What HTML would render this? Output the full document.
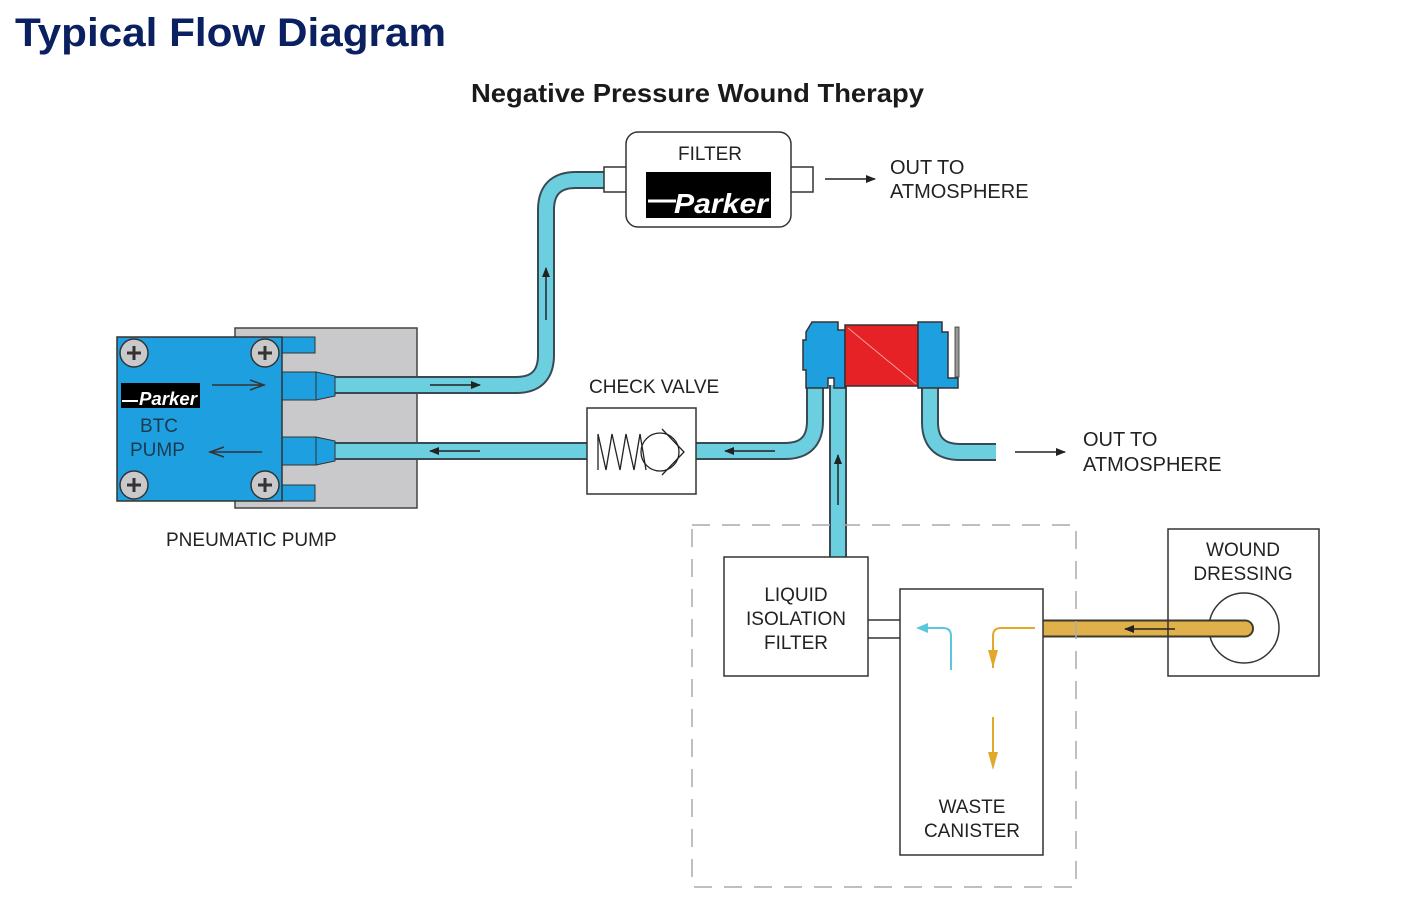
<!DOCTYPE html>
<html><head><meta charset="utf-8"><style>
html,body{margin:0;padding:0;background:#fff;}
svg{display:block;font-family:"Liberation Sans",sans-serif;}
</style></head><body>
<svg width="1403" height="904" viewBox="0 0 1403 904" xmlns="http://www.w3.org/2000/svg">
<defs>
<marker id="ah" markerWidth="10" markerHeight="8" refX="9" refY="4" orient="auto" markerUnits="userSpaceOnUse"><path d="M0,0 L10,4 L0,8 Z" fill="#222"/></marker>
<marker id="ahc" markerWidth="12" markerHeight="10" refX="10" refY="5" orient="auto" markerUnits="userSpaceOnUse"><path d="M0,0 L12,5 L0,10 Z" fill="#5cc6dc"/></marker>
</defs>
<text x="15" y="46" font-size="40" font-weight="bold" fill="#0a2060" textLength="431" lengthAdjust="spacingAndGlyphs">Typical Flow Diagram</text>
<text x="471" y="102" font-size="26" font-weight="bold" fill="#1a1a1a" textLength="453" lengthAdjust="spacingAndGlyphs">Negative Pressure Wound Therapy</text>

<!-- pump gray block first -->
<rect x="235" y="328" width="182" height="180" fill="#c9c9cb" stroke="#444" stroke-width="1.5"/>

<!-- tubes -->
<g fill="none" stroke-linejoin="round">
<path d="M320,385 H516 Q546,385 546,355 V210 Q546,180 576,180 H606" stroke="#3a4a55" stroke-width="18"/>
<path d="M320,385 H516 Q546,385 546,355 V210 Q546,180 576,180 H606" stroke="#6ccfe0" stroke-width="14"/>
<path d="M320,451 H588 M696,451 H785 Q815,451 815,421 V385" stroke="#3a4a55" stroke-width="18"/>
<path d="M320,451 H588 M696,451 H785 Q815,451 815,421 V385" stroke="#6ccfe0" stroke-width="14"/>
<path d="M838,385 V558" stroke="#3a4a55" stroke-width="18"/>
<path d="M838,385 V558" stroke="#6ccfe0" stroke-width="14"/>
<path d="M930,385 V422 Q930,452 960,452 H996" stroke="#3a4a55" stroke-width="18"/>
<path d="M930,385 V422 Q930,452 960,452 H996" stroke="#6ccfe0" stroke-width="14"/>
<path d="M1043,628.5 H1245" stroke="#3a3a2a" stroke-width="18" stroke-linecap="round"/>
<path d="M1043,628.5 H1245" stroke="#e0b04a" stroke-width="14" stroke-linecap="round"/>
</g>
<g stroke="#222" stroke-width="1.5" fill="none">
<line x1="430" y1="385" x2="480" y2="385" marker-end="url(#ah)"/>
<line x1="546" y1="320" x2="546" y2="268" marker-end="url(#ah)"/>
<line x1="480" y1="451" x2="430" y2="451" marker-end="url(#ah)"/>
<line x1="775" y1="451" x2="725" y2="451" marker-end="url(#ah)"/>
<line x1="838" y1="505" x2="838" y2="455" marker-end="url(#ah)"/>
<line x1="825" y1="179" x2="875" y2="179" marker-end="url(#ah)"/>
<line x1="1015" y1="452" x2="1065" y2="452" marker-end="url(#ah)"/>
</g>

<!-- filter -->
<rect x="604" y="167" width="24" height="25" fill="#fff" stroke="#333" stroke-width="1.5"/>
<rect x="789" y="167" width="24" height="25" fill="#fff" stroke="#333" stroke-width="1.5"/>
<rect x="626" y="132" width="165" height="95" rx="12" fill="#fff" stroke="#333" stroke-width="1.5"/>
<text x="710" y="160" font-size="19" text-anchor="middle" fill="#222">FILTER</text>
<rect x="646" y="172" width="125" height="46" fill="#000"/>
<line x1="648" y1="201" x2="676" y2="201" stroke="#fff" stroke-width="3"/>
<text x="721" y="213" font-size="28" font-weight="bold" font-style="italic" text-anchor="middle" fill="#fff" textLength="94" lengthAdjust="spacingAndGlyphs">Parker</text>
<text x="890" y="174" font-size="20" fill="#222">OUT TO</text>
<text x="890" y="198" font-size="20" fill="#222">ATMOSPHERE</text>

<!-- pump -->
<rect x="280" y="337" width="35" height="16" fill="#1ea0e0" stroke="#333"/>
<rect x="280" y="485" width="35" height="16" fill="#1ea0e0" stroke="#333"/>
<rect x="280" y="372" width="36" height="28" fill="#1ea0e0" stroke="#333"/>
<path d="M316,372 L335,376 V396 L316,400 Z" fill="#1ea0e0" stroke="#333"/>
<rect x="280" y="437" width="36" height="28" fill="#1ea0e0" stroke="#333"/>
<path d="M316,437 L335,441 V461 L316,465 Z" fill="#1ea0e0" stroke="#333"/>
<rect x="117" y="337" width="165" height="164" fill="#1ea0e0" stroke="#333" stroke-width="1.5"/>
<g fill="#c9c9cb" stroke="#333" stroke-width="1.5">
<circle cx="134" cy="353" r="14"/><circle cx="265" cy="353" r="14"/>
<circle cx="134" cy="485" r="14"/><circle cx="265" cy="485" r="14"/>
</g>
<g stroke="#333" stroke-width="3">
<path d="M127,353 h14 M134,346 v14 M258,353 h14 M265,346 v14 M127,485 h14 M134,478 v14 M258,485 h14 M265,478 v14"/>
</g>
<rect x="121" y="383" width="79" height="25" fill="#000"/>
<line x1="122" y1="401" x2="138" y2="401" stroke="#fff" stroke-width="2"/>
<text x="168" y="405" font-size="18" font-weight="bold" font-style="italic" text-anchor="middle" fill="#fff" textLength="58" lengthAdjust="spacingAndGlyphs">Parker</text>
<text x="140" y="432" font-size="19" fill="#1a3a50">BTC</text>
<text x="130" y="456" font-size="19" fill="#1a3a50">PUMP</text>
<g stroke="#333" stroke-width="1.5" fill="none">
<path d="M212,385 H262 M250,380 L264,385 L250,390"/>
<path d="M262,452 H212 M224,447 L210,452 L224,457"/>
</g>
<text x="166" y="546" font-size="19" fill="#222">PNEUMATIC PUMP</text>

<!-- check valve -->
<rect x="587" y="408" width="109" height="86" fill="#fff" stroke="#333" stroke-width="1.5"/>
<path d="M598,470 L598,434 L606,470 L612,434 L620,470 L626,434 L634,470 L640,434 L646,470" fill="none" stroke="#222" stroke-width="1.3"/>
<circle cx="660" cy="452" r="19" fill="none" stroke="#222" stroke-width="1.3"/>
<path d="M662,429 L684,452 L662,475" fill="none" stroke="#222" stroke-width="1.3"/>
<text x="589" y="393" font-size="19" fill="#222">CHECK VALVE</text>

<!-- solenoid valve -->
<path d="M812,322 H838 V330 L845,330 V388 H834 V378 H828 V388 H806 V370 H803 V340 H806 V332 Z" fill="#1ea0e0" stroke="#333" stroke-width="1.5"/>
<rect x="845" y="325" width="73" height="61" fill="#e62226" stroke="#333" stroke-width="1.5"/>
<line x1="848" y1="328" x2="916" y2="384" stroke="#f5a0a0" stroke-width="1"/>
<path d="M918,322 H942 V332 H948 V378 H958 V388 H918 Z" fill="#1ea0e0" stroke="#333" stroke-width="1.5"/>
<rect x="955" y="327" width="4" height="50" fill="#999" stroke="#333" stroke-width="0.8"/>
<text x="1083" y="446" font-size="20" fill="#222">OUT TO</text>
<text x="1083" y="471" font-size="20" fill="#222">ATMOSPHERE</text>

<!-- dashed box -->
<rect x="692" y="525" width="384" height="362" fill="none" stroke="#aaa" stroke-width="1.5" stroke-dasharray="18,12"/>
<rect x="724" y="557" width="144" height="119" fill="#fff" stroke="#333" stroke-width="1.5"/>
<g font-size="19" fill="#222" text-anchor="middle">
<text x="796" y="601">LIQUID</text><text x="796" y="625">ISOLATION</text><text x="796" y="649">FILTER</text>
</g>
<line x1="868" y1="620" x2="900" y2="620" stroke="#333" stroke-width="1.5"/>
<line x1="868" y1="638" x2="900" y2="638" stroke="#333" stroke-width="1.5"/>
<rect x="900" y="589" width="143" height="266" fill="#fff" stroke="#333" stroke-width="1.5"/>
<g font-size="19" fill="#222" text-anchor="middle">
<text x="972" y="813">WASTE</text><text x="972" y="837">CANISTER</text>
</g>
<path d="M951,670 V636 Q951,628 943,628 H918" fill="none" stroke="#5cc6dc" stroke-width="2" marker-end="url(#ahc)"/>
<path d="M1035,628 H1001 Q993,628 993,636 V668" fill="none" stroke="#e3a82a" stroke-width="2"/>
<path d="M988,650 L993,668 L998,650 Z" fill="#e3a82a"/>
<line x1="993" y1="717" x2="993" y2="752" stroke="#e3a82a" stroke-width="2"/>
<path d="M988,752 L993,770 L998,752 Z" fill="#e3a82a"/>

<!-- wound dressing -->
<rect x="1168" y="529" width="151" height="147" fill="none" stroke="#333" stroke-width="1.5"/>
<circle cx="1244" cy="628" r="35" fill="none" stroke="#333" stroke-width="1.5"/>
<path d="M1209,628.5 H1245" stroke="#e0b04a" stroke-width="14" stroke-linecap="round" fill="none"/>
<line x1="1175" y1="629" x2="1125" y2="629" stroke="#222" stroke-width="1.5" marker-end="url(#ah)"/>
<g font-size="19" fill="#222" text-anchor="middle">
<text x="1243" y="556">WOUND</text><text x="1243" y="580">DRESSING</text>
</g>
</svg>
</body></html>
